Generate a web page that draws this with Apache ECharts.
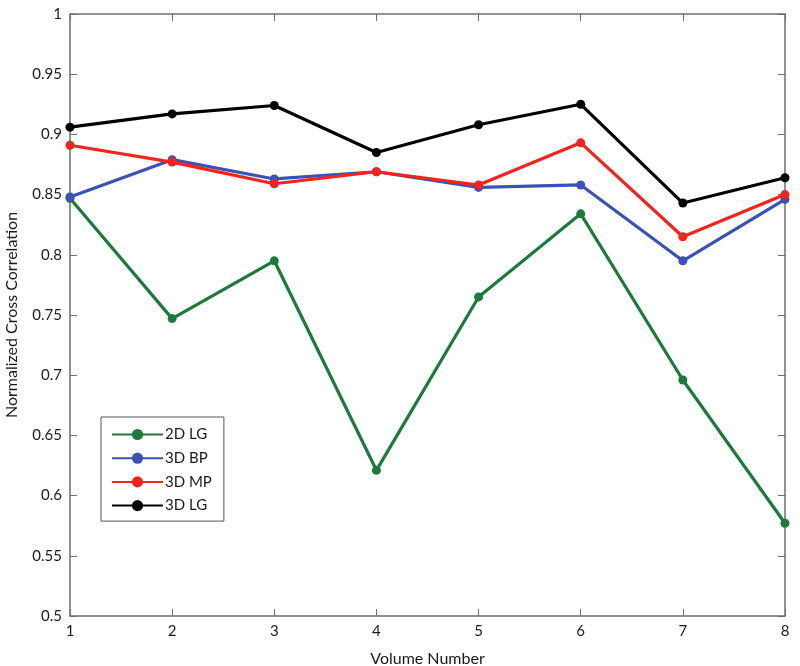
<!DOCTYPE html>
<html>
<head>
<meta charset="utf-8">
<script src="https://cdn.jsdelivr.net/npm/echarts@6/dist/echarts.min.js"></script>
<style>
  html, body { margin: 0; padding: 0; background: #fff; }
  #chart { width: 800px; height: 666px; }
</style>
</head>
<body>
<div id="chart"></div>
<script>
const volumes = ['1', '2', '3', '4', '5', '6', '7', '8'];
const lg2d = [0.847, 0.747, 0.795, 0.621, 0.765, 0.834, 0.696, 0.577];
const bp3d = [0.848, 0.879, 0.863, 0.869, 0.856, 0.858, 0.795, 0.846];
const mp3d = [0.891, 0.877, 0.859, 0.869, 0.858, 0.893, 0.815, 0.850];
const lg3d = [0.906, 0.917, 0.924, 0.885, 0.908, 0.925, 0.843, 0.864];

const font = 'Lato, "Open Sans", sans-serif';
const axisGray = '#6e6e6e';
const textColor = '#1a1a1a';

const chart = echarts.init(document.getElementById('chart'));

const makeSeries = (name, data, color) => ({
    name,
    type: 'line',
    data,
    xAxisIndex: 0,
    yAxisIndex: 0,
    symbol: 'circle',
    symbolSize: 9,
    lineStyle: { width: 3.2, color },
    itemStyle: { color },
    emphasis: { disabled: true },
    animation: false,
});

// plain mirrored axes give the closed MATLAB-like box
const boxAxisX = (position, showLabel) => ({
    type: 'category',
    data: volumes,
    position,
    boundaryGap: false,
    axisLine: { show: true, lineStyle: { color: axisGray, width: 1.5 } },
    axisTick: { show: true, inside: true, length: 7, lineStyle: { color: axisGray } },
    axisLabel: { show: showLabel, color: textColor, fontFamily: font, fontSize: 15, margin: 8 },
    splitLine: { show: false },
});

const boxAxisY = (position, showLabel) => ({
    type: 'value',
    position,
    min: 0.5,
    max: 1,
    interval: 0.05,
    axisLine: { show: true, lineStyle: { color: axisGray, width: 1.5 } },
    axisTick: { show: true, inside: true, length: 7, lineStyle: { color: axisGray } },
    axisLabel: { show: showLabel, color: textColor, fontFamily: font, fontSize: 15, margin: 8 },
    splitLine: { show: false },
});

chart.setOption({
    backgroundColor: '#fff',
    animation: false,
    grid: { left: 70, right: 15, top: 14, bottom: 50, outerBoundsMode: 'none' },
    xAxis: [
        Object.assign(boxAxisX('bottom', true), {
            name: 'Volume Number',
            nameLocation: 'middle',
            nameGap: 35,
            nameTextStyle: { color: textColor, fontFamily: font, fontSize: 16 },
        }),
        boxAxisX('top', false),
    ],
    yAxis: [
        Object.assign(boxAxisY('left', true), {
            name: 'Normalized Cross Correlation',
            nameLocation: 'middle',
            nameGap: 50,
            nameTextStyle: { color: textColor, fontFamily: font, fontSize: 16 },
        }),
        boxAxisY('right', false),
    ],
    legend: {
        orient: 'vertical',
        left: 101,
        top: 417,
        padding: [10, 12, 8, 10],
        itemWidth: 51,
        itemHeight: 14,
        itemGap: 8.7,
        backgroundColor: '#fff',
        borderColor: '#555',
        borderWidth: 1,
        textStyle: { color: textColor, fontFamily: font, fontSize: 15, padding: [0, 0, 0, -3] },
        data: ['2D LG', '3D BP', '3D MP', '3D LG'],
    },
    series: [
        makeSeries('2D LG', lg2d, '#1c7a3c'),
        makeSeries('3D BP', bp3d, '#3a52b4'),
        makeSeries('3D MP', mp3d, '#f5231c'),
        makeSeries('3D LG', lg3d, '#000000'),
    ],
});
</script>
</body>
</html>
